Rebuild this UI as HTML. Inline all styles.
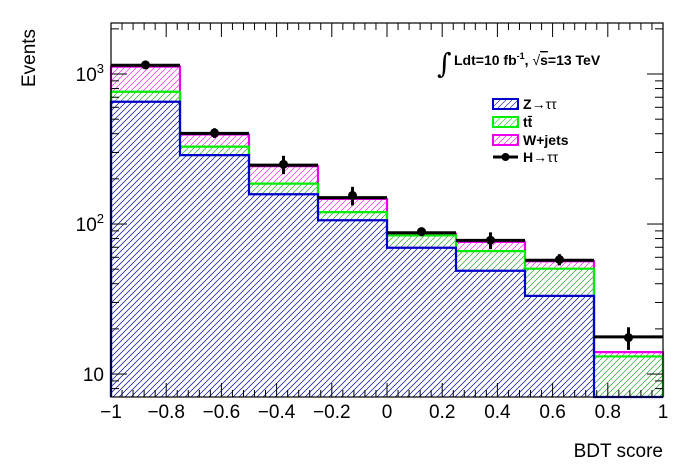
<!DOCTYPE html>
<html><head><meta charset="utf-8"><style>
html,body{margin:0;padding:0;background:#fff}
svg{display:block;font-family:"Liberation Sans",Arial,sans-serif}
</style></head><body>
<svg id="c" width="698" height="473" viewBox="0 0 698 473">
<defs>
<pattern id="hb" patternUnits="userSpaceOnUse" width="6" height="6"><path d="M-1,7 L7,-1 M-1,1 L1,-1 M5,7 L7,5" stroke="#0000cc" stroke-width="0.6"/></pattern>
<pattern id="hg" patternUnits="userSpaceOnUse" width="6" height="6"><path d="M-1,7 L7,-1 M-1,1 L1,-1 M5,7 L7,5" stroke="#00cc00" stroke-width="0.6"/></pattern>
<pattern id="hm" patternUnits="userSpaceOnUse" width="6" height="6"><path d="M-1,7 L7,-1 M-1,1 L1,-1 M5,7 L7,5" stroke="#ee00ee" stroke-width="0.6"/></pattern>
</defs>
<g id="plot"></g>
<text x="35" y="58" font-size="19" transform="rotate(-90 35 58)" style="text-anchor:middle">Events</text>
<text x="663" y="457" font-size="19" text-anchor="end">BDT score</text>
<g>
<text x="437" y="73" font-size="28" font-family="DejaVu Serif,serif">∫</text>
<text x="454" y="65" font-size="14" font-weight="bold">Ldt=10 fb<tspan dy="-6" font-size="9">-1</tspan><tspan dy="6">, </tspan><tspan font-weight="normal">√</tspan><tspan text-decoration="overline">s</tspan>=13 TeV</text>
</g>
<g>
<g><rect x="493" y="99" width="25" height="10" fill="url(#hb)" stroke="#0000cc" stroke-width="2"/><text x="523" y="109" font-size="14" font-weight="bold">Z<tspan font-weight="normal">→ττ</tspan></text></g>
<g><rect x="493" y="117" width="25" height="10" fill="url(#hg)" stroke="#00ee00" stroke-width="2"/><text x="523" y="127" font-size="14" font-weight="bold">tt̄</text></g>
<g><rect x="493" y="135" width="25" height="10" fill="url(#hm)" stroke="#ee00ee" stroke-width="2"/><text x="523" y="145" font-size="14" font-weight="bold">W+jets</text></g>
<g><line x1="493" y1="157" x2="518" y2="157" stroke="#000" stroke-width="3"/><circle cx="505.5" cy="157" r="4" fill="#000"/><text x="523" y="162" font-size="14" font-weight="bold">H<tspan font-weight="normal">→ττ</tspan></text></g>
</g>
</svg>
<script>
const edges=[-1,-0.75,-0.5,-0.25,0,0.25,0.5,0.75,1];
const zValues=[653,288,158,106,69.5,48.8,33.2,0];
const ttValues=[762,328,186,120,84,66,50.4,13.1];
const wValues=[1120,395,243,147,86,76,56.5,14];
const totalValues=[1143,402,247,150,87.5,77.8,57.3,17.7];
const dataValues=[1150,405,250,155,89,78,58,17.5];
const dataErrors=[60,30,35,22,6,10,5,3];
const xTicks=[-1,-0.8,-0.6,-0.4,-0.2,0,0.2,0.4,0.6,0.8,1];
const xTickLabels=["−1","−0.8","−0.6","−0.4","−0.2","0","0.2","0.4","0.6","0.8","1"];
const yDecades=[10,100,1000];

const L=111,R=663,T=23,B=397,yMin=7.03,yMax=2188;
const ns="http://www.w3.org/2000/svg";
function X(v){return L+(v+1)/2*(R-L);}
function Y(v){if(v<=yMin)return B;const p=B-(Math.log10(v)-Math.log10(yMin))/(Math.log10(yMax)-Math.log10(yMin))*(B-T);return Math.max(T,p);}
const g=document.getElementById('plot');
function mk(tag,attrs,parent){const e=document.createElementNS(ns,tag);for(const k in attrs)e.setAttribute(k,attrs[k]);(parent||g).appendChild(e);return e;}
function step(vals){let d="M"+X(edges[0])+","+B;for(let i=0;i<vals.length;i++){d+=" L"+X(edges[i])+","+Y(vals[i])+" L"+X(edges[i+1])+","+Y(vals[i]);}d+=" L"+X(edges[edges.length-1])+","+B;return d;}
function series(vals,fill,color,name){
  const a=mk('path',{d:step(vals)+" Z",fill:fill,stroke:'none'});
  
  
  const b=mk('path',{d:step(vals),fill:'none',stroke:color,'stroke-width':2.2});
  
  
}
series(wValues,'url(#hm)','#ee00ee','wjets');
series(ttValues,'url(#hg)','#00ee00','ttbar');
series(zValues,'url(#hb)','#0000cc','ztautau');
let d="";for(let i=0;i<totalValues.length;i++){d+="M"+X(edges[i])+","+Y(totalValues[i])+" L"+X(edges[i+1])+","+Y(totalValues[i])+" ";}
const tl=mk('path',{d:d,stroke:'#000','stroke-width':3,fill:'none'});


for(let i=0;i<dataValues.length;i++){
  const cx=(X(edges[i])+X(edges[i+1]))/2,cy=Y(dataValues[i]);
  const el=mk('line',{x1:cx,x2:cx,y1:Y(dataValues[i]+dataErrors[i]),y2:Y(dataValues[i]-dataErrors[i]),stroke:'#000','stroke-width':3});
  
  
  const c=mk('circle',{cx:cx,cy:cy,r:4.5,fill:'#000'});
  
  
}
const fr=mk('rect',{x:L,y:T,width:R-L,height:B-T,fill:'none',stroke:'#000','stroke-width':1.2});


for(let v=-1;v<=1.0001;v+=0.04){
  const major=Math.abs(Math.round(v*5)-v*5)<1e-6;const len=major?14:7;const x=X(v);
  mk('line',{x1:x,x2:x,y1:B,y2:B-len,stroke:'#000','stroke-width':1});
  mk('line',{x1:x,x2:x,y1:T,y2:T+len,stroke:'#000','stroke-width':1});
}
for(let i=0;i<xTicks.length;i++){
  const t=mk('text',{x:X(xTicks[i]),y:418,'font-size':19,'text-anchor':'middle'});
  t.textContent=xTickLabels[i];
  
  
}
for(let dec=1;dec<=1000;dec*=10){for(let m=1;m<10;m++){const v=dec*m;if(v<yMin||v>yMax)continue;const y=Y(v);const len=m===1?16:8;
  mk('line',{x1:L,x2:L+len,y1:y,y2:y,stroke:'#000','stroke-width':1});
  mk('line',{x1:R,x2:R-len,y1:y,y2:y,stroke:'#000','stroke-width':1});}}
for(let i=0;i<yDecades.length;i++){
  const t=mk('text',{x:104,y:Y(yDecades[i])+7,'font-size':19,'text-anchor':'end'});
  t.textContent="10";
  if(i>0){const s=document.createElementNS(ns,'tspan');s.setAttribute('dy','-8');s.setAttribute('font-size','13');s.textContent=String(i+1);t.appendChild(s);}
  
  
}
</script>
</body></html>
